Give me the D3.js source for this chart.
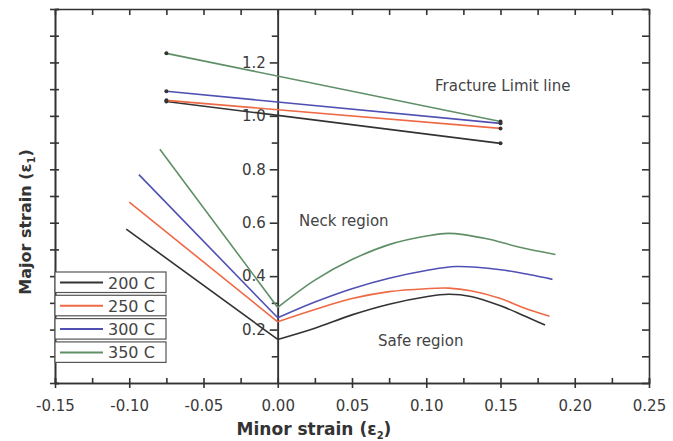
<!DOCTYPE html>
<html>
<head>
<meta charset="utf-8">
<script src="https://d3js.org/d3.v7.min.js"></script>
<style>
  body { margin: 0; background: #fff; }
  svg { font-family: "DejaVu Sans", Verdana, sans-serif; }
</style>
</head>
<body>
<div id="container"></div>
<script>
var width = 673, height = 441;

// data
var seriesNames = ["200 C", "250 C", "300 C", "350 C"];
var xTickValues = [-0.15, -0.10, -0.05, 0.00, 0.05, 0.10, 0.15, 0.20, 0.25];
var yTickValues = [0.2, 0.4, 0.6, 0.8, 1.0, 1.2];

// left arm of forming limit curve (negative minor strain)
var left200 = [[-0.102, 0.576], [0, 0.163]];
var left250 = [[-0.100, 0.677], [0, 0.229]];
var left300 = [[-0.0935, 0.780], [0, 0.244]];
var left350 = [[-0.0794, 0.875], [0, 0.283]];

// right arm (positive minor strain)
var right200 = [[0, 0.163], [0.025, 0.205], [0.05, 0.255], [0.075, 0.295], [0.10, 0.323], [0.115, 0.332], [0.13, 0.324], [0.15, 0.289], [0.165, 0.254], [0.18, 0.217]];
var right250 = [[0, 0.229], [0.025, 0.275], [0.05, 0.316], [0.075, 0.342], [0.10, 0.353], [0.115, 0.355], [0.13, 0.345], [0.15, 0.316], [0.165, 0.283], [0.183, 0.250]];
var right300 = [[0, 0.244], [0.025, 0.303], [0.05, 0.353], [0.075, 0.392], [0.10, 0.421], [0.12, 0.436], [0.15, 0.424], [0.17, 0.405], [0.185, 0.388]];
var right350 = [[0, 0.283], [0.025, 0.385], [0.05, 0.462], [0.075, 0.518], [0.10, 0.550], [0.115, 0.560], [0.14, 0.541], [0.163, 0.508], [0.187, 0.481]];

// fracture limit lines
var fracture200 = [[-0.075, 1.054], [0.15, 0.897]];
var fracture250 = [[-0.075, 1.058], [0.15, 0.953]];
var fracture300 = [[-0.075, 1.092], [0.15, 0.972]];
var fracture350 = [[-0.075, 1.234], [0.15, 0.979]];

var colors = ["#333333", "#ee6a45", "#5050b4", "#5f8f66"];
var lefts = [left200, left250, left300, left350];
var rights = [right200, right250, right300, right350];
var fractures = [fracture200, fracture250, fracture300, fracture350];

var svg = d3.select("#container").append("svg")
    .attr("width", width)
    .attr("height", height);

var x = d3.scaleLinear().domain([-0.15, 0.25]).range([55, 649]);
var y = d3.scaleLinear().domain([0, 1.4]).range([383, 9]);

var xMinor = d3.range(-0.15, 0.2501, 0.025);
var yMinor = d3.range(0, 1.401, 0.1);
var axisColor = "#333";

function styleAxis(g) {
  g.selectAll("path, line").attr("stroke", axisColor).attr("stroke-width", 1.6);
  g.selectAll("text").attr("fill", "#3a3a3a").attr("font-size", 15)
    .attr("font-family", "'DejaVu Sans', sans-serif");
}

// bottom axis: labels + crossing major ticks + inward minors
svg.append("g").attr("transform", "translate(0," + y(0) + ")")
  .call(d3.axisBottom(x).tickValues(xTickValues).tickSizeInner(5).tickSizeOuter(0).tickPadding(12)
    .tickFormat(function(d) { return d.toFixed(2); }))
  .call(styleAxis);
svg.append("g").attr("transform", "translate(0," + y(0) + ")")
  .call(d3.axisBottom(x).tickValues(xMinor).tickSize(-5).tickFormat(""))
  .call(styleAxis);

// top axis
svg.append("g").attr("transform", "translate(0," + y(1.4) + ")")
  .call(d3.axisTop(x).tickValues(xMinor).tickSize(-6).tickSizeOuter(0).tickFormat(""))
  .call(styleAxis);

// left axis
svg.append("g").attr("transform", "translate(" + x(-0.15) + ",0)")
  .call(d3.axisLeft(y).tickValues(yMinor).tickSize(5).tickSizeOuter(0).tickFormat(""))
  .call(styleAxis);
svg.append("g").attr("transform", "translate(" + x(-0.15) + ",0)")
  .call(d3.axisLeft(y).tickValues(yMinor).tickSize(-4).tickFormat(""))
  .call(styleAxis);

// right axis
svg.append("g").attr("transform", "translate(" + x(0.25) + ",0)")
  .call(d3.axisRight(y).tickValues(yMinor).tickSize(-7).tickSizeOuter(0).tickFormat(""))
  .call(styleAxis);

// centre axis at minor strain = 0 carrying the labels
svg.append("g").attr("transform", "translate(" + x(0) + ",0)")
  .call(d3.axisLeft(y).tickValues(yTickValues).tickSize(8).tickSizeOuter(0).tickPadding(4)
    .tickFormat(function(d) { return d.toFixed(1); }))
  .call(styleAxis);
svg.append("g").attr("transform", "translate(" + x(0) + ",0)")
  .call(d3.axisLeft(y).tickValues([0.1, 0.3, 0.5, 0.7, 0.9, 1.1, 1.3]).tickSize(6).tickSizeOuter(0).tickFormat(""))
  .call(styleAxis);

var straight = d3.line().x(function(d) { return x(d[0]); }).y(function(d) { return y(d[1]); });
var smooth = d3.line().x(function(d) { return x(d[0]); }).y(function(d) { return y(d[1]); })
  .curve(d3.curveCatmullRom.alpha(0.5));

seriesNames.forEach(function(name, i) {
  svg.append("path").attr("d", straight(lefts[i]))
    .attr("fill", "none").attr("stroke", colors[i]).attr("stroke-width", 1.6);
  svg.append("path").attr("d", smooth(rights[i]))
    .attr("fill", "none").attr("stroke", colors[i]).attr("stroke-width", 1.6);
  svg.append("path").attr("d", straight(fractures[i]))
    .attr("fill", "none").attr("stroke", colors[i]).attr("stroke-width", 1.6);
  svg.selectAll(null).data(fractures[i]).enter().append("circle")
    .attr("cx", function(d) { return x(d[0]); })
    .attr("cy", function(d) { return y(d[1]); })
    .attr("r", 2)
    .attr("fill", "#333");
});

// region annotations
svg.append("text").attr("x", 435).attr("y", 91).text("Fracture Limit line")
  .attr("font-size", 15).attr("fill", "#444");
svg.append("text").attr("x", 299).attr("y", 226).text("Neck region")
  .attr("font-size", 15).attr("fill", "#444");
svg.append("text").attr("x", 378).attr("y", 346).text("Safe region")
  .attr("font-size", 15).attr("fill", "#444");

// legend
var legend = svg.append("g");
seriesNames.forEach(function(name, i) {
  var top = 272 + i * 23.3;
  legend.append("rect").attr("x", 55).attr("y", top).attr("width", 111).attr("height", 20.5)
    .attr("fill", "#fff").attr("stroke", "#555").attr("stroke-width", 1.2);
  legend.append("line").attr("x1", 60).attr("x2", 103).attr("y1", top + 10.5).attr("y2", top + 10.5)
    .attr("stroke", colors[i]).attr("stroke-width", 2);
  legend.append("text").attr("x", 108).attr("y", top + 16.5).text(name)
    .attr("font-size", 16).attr("fill", "#444");
});

// axis titles
svg.append("text").attr("x", 314).attr("y", 435).attr("text-anchor", "middle")
  .attr("font-size", 17).attr("font-weight", "bold").attr("fill", "#333")
  .html('Minor strain (ε<tspan font-size="10" dy="4">2</tspan><tspan dy="-4">)</tspan>');
svg.append("text").attr("transform", "translate(31,222) rotate(-90)").attr("text-anchor", "middle")
  .attr("font-size", 16).attr("font-weight", "bold").attr("fill", "#333")
  .html('Major strain (ε<tspan font-size="10" dy="4">1</tspan><tspan dy="-4">)</tspan>');
</script>
</body>
</html>
